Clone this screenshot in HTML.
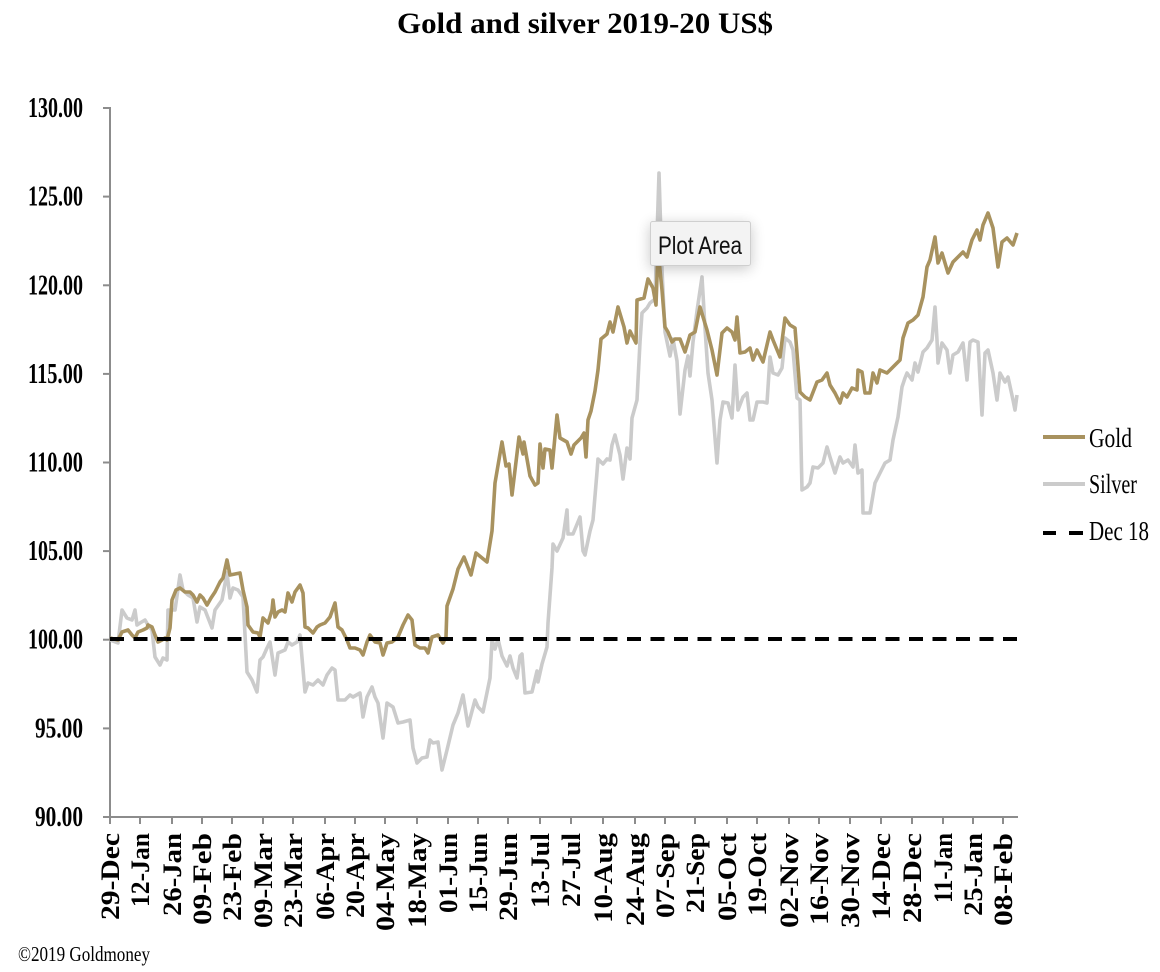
<!DOCTYPE html>
<html>
<head>
<meta charset="utf-8">
<style>
html,body{margin:0;padding:0;background:#fff;}
svg{display:block;}
.ser{font-family:"Liberation Serif","Times New Roman",serif;}
.b{font-weight:bold;}
</style>
</head>
<body>
<svg width="1160" height="972" viewBox="0 0 1160 972" xmlns="http://www.w3.org/2000/svg">
<defs>
<filter id="sh" x="-40%" y="-60%" width="180%" height="220%">
<feGaussianBlur in="SourceAlpha" stdDeviation="7"/>
<feOffset dx="0" dy="3" result="o"/>
<feComponentTransfer><feFuncA type="linear" slope="0.22"/></feComponentTransfer>
<feMerge><feMergeNode/><feMergeNode in="SourceGraphic"/></feMerge>
</filter>
</defs>
<rect width="1160" height="972" fill="#fff"/>

<!-- Title -->
<text class="ser b" x="397" y="33" font-size="30" textLength="376" lengthAdjust="spacingAndGlyphs" fill="#000">Gold and silver 2019-20  US$</text>

<!-- Y axis -->
<g stroke="#8c8c8c" stroke-width="2">
<line x1="110" y1="107" x2="110" y2="818"/>
<line x1="103" y1="108" x2="110" y2="108"/>
<line x1="103" y1="196.6" x2="110" y2="196.6"/>
<line x1="103" y1="285.3" x2="110" y2="285.3"/>
<line x1="103" y1="373.9" x2="110" y2="373.9"/>
<line x1="103" y1="462.5" x2="110" y2="462.5"/>
<line x1="103" y1="551.1" x2="110" y2="551.1"/>
<line x1="103" y1="639.7" x2="110" y2="639.7"/>
<line x1="103" y1="728.4" x2="110" y2="728.4"/>
<line x1="103" y1="817" x2="110" y2="817"/>
<!-- X axis -->
<line x1="109" y1="817" x2="1018" y2="817"/>
</g>
<g stroke="#8c8c8c" stroke-width="2">
<line x1="110" y1="817" x2="110" y2="824"/><line x1="140" y1="817" x2="140" y2="824"/><line x1="172" y1="817" x2="172" y2="824"/><line x1="202" y1="817" x2="202" y2="824"/><line x1="232" y1="817" x2="232" y2="824"/><line x1="263" y1="817" x2="263" y2="824"/><line x1="293" y1="817" x2="293" y2="824"/><line x1="325" y1="817" x2="325" y2="824"/><line x1="355" y1="817" x2="355" y2="824"/><line x1="385" y1="817" x2="385" y2="824"/><line x1="417" y1="817" x2="417" y2="824"/><line x1="448" y1="817" x2="448" y2="824"/><line x1="478" y1="817" x2="478" y2="824"/><line x1="508" y1="817" x2="508" y2="824"/><line x1="540" y1="817" x2="540" y2="824"/><line x1="571" y1="817" x2="571" y2="824"/><line x1="603" y1="817" x2="603" y2="824"/><line x1="635" y1="817" x2="635" y2="824"/><line x1="665" y1="817" x2="665" y2="824"/><line x1="695" y1="817" x2="695" y2="824"/><line x1="727" y1="817" x2="727" y2="824"/><line x1="757" y1="817" x2="757" y2="824"/><line x1="789" y1="817" x2="789" y2="824"/><line x1="819" y1="817" x2="819" y2="824"/><line x1="850" y1="817" x2="850" y2="824"/><line x1="881" y1="817" x2="881" y2="824"/><line x1="912" y1="817" x2="912" y2="824"/><line x1="943" y1="817" x2="943" y2="824"/><line x1="973" y1="817" x2="973" y2="824"/><line x1="1003" y1="817" x2="1003" y2="824"/>
</g>

<!-- Y labels -->
<g class="ser b" font-size="29" text-anchor="end" fill="#000">
<text x="83" y="117" textLength="55" lengthAdjust="spacingAndGlyphs">130.00</text>
<text x="83" y="205.6" textLength="55" lengthAdjust="spacingAndGlyphs">125.00</text>
<text x="83" y="294.3" textLength="55" lengthAdjust="spacingAndGlyphs">120.00</text>
<text x="83" y="382.9" textLength="55" lengthAdjust="spacingAndGlyphs">115.00</text>
<text x="83" y="471.5" textLength="55" lengthAdjust="spacingAndGlyphs">110.00</text>
<text x="83" y="560.1" textLength="55" lengthAdjust="spacingAndGlyphs">105.00</text>
<text x="83" y="648.7" textLength="55" lengthAdjust="spacingAndGlyphs">100.00</text>
<text x="83" y="737.4" textLength="48" lengthAdjust="spacingAndGlyphs">95.00</text>
<text x="83" y="826" textLength="48" lengthAdjust="spacingAndGlyphs">90.00</text>
</g>

<!-- X labels (rotated) -->
<g class="ser b" font-size="26" text-anchor="end" fill="#000">
<text transform="translate(119,833) rotate(-90)" textLength="87" lengthAdjust="spacingAndGlyphs">29-Dec</text>
<text transform="translate(149,833) rotate(-90)" textLength="74" lengthAdjust="spacingAndGlyphs">12-Jan</text>
<text transform="translate(181,833) rotate(-90)" textLength="83" lengthAdjust="spacingAndGlyphs">26-Jan</text>
<text transform="translate(211,833) rotate(-90)" textLength="92" lengthAdjust="spacingAndGlyphs">09-Feb</text>
<text transform="translate(241,833) rotate(-90)" textLength="88" lengthAdjust="spacingAndGlyphs">23-Feb</text>
<text transform="translate(272,833) rotate(-90)" textLength="95" lengthAdjust="spacingAndGlyphs">09-Mar</text>
<text transform="translate(302,833) rotate(-90)" textLength="95" lengthAdjust="spacingAndGlyphs">23-Mar</text>
<text transform="translate(334,833) rotate(-90)" textLength="87" lengthAdjust="spacingAndGlyphs">06-Apr</text>
<text transform="translate(364,833) rotate(-90)" textLength="85" lengthAdjust="spacingAndGlyphs">20-Apr</text>
<text transform="translate(394,833) rotate(-90)" textLength="98" lengthAdjust="spacingAndGlyphs">04-May</text>
<text transform="translate(426,833) rotate(-90)" textLength="95" lengthAdjust="spacingAndGlyphs">18-May</text>
<text transform="translate(457,833) rotate(-90)" textLength="80" lengthAdjust="spacingAndGlyphs">01-Jun</text>
<text transform="translate(487,833) rotate(-90)" textLength="80" lengthAdjust="spacingAndGlyphs">15-Jun</text>
<text transform="translate(517,833) rotate(-90)" textLength="88" lengthAdjust="spacingAndGlyphs">29-Jun</text>
<text transform="translate(549,833) rotate(-90)" textLength="75" lengthAdjust="spacingAndGlyphs">13-Jul</text>
<text transform="translate(580,833) rotate(-90)" textLength="74" lengthAdjust="spacingAndGlyphs">27-Jul</text>
<text transform="translate(612,833) rotate(-90)" textLength="90" lengthAdjust="spacingAndGlyphs">10-Aug</text>
<text transform="translate(644,833) rotate(-90)" textLength="93" lengthAdjust="spacingAndGlyphs">24-Aug</text>
<text transform="translate(674,833) rotate(-90)" textLength="85" lengthAdjust="spacingAndGlyphs">07-Sep</text>
<text transform="translate(704,833) rotate(-90)" textLength="80" lengthAdjust="spacingAndGlyphs">21-Sep</text>
<text transform="translate(736,833) rotate(-90)" textLength="88" lengthAdjust="spacingAndGlyphs">05-Oct</text>
<text transform="translate(766,833) rotate(-90)" textLength="83" lengthAdjust="spacingAndGlyphs">19-Oct</text>
<text transform="translate(798,833) rotate(-90)" textLength="95" lengthAdjust="spacingAndGlyphs">02-Nov</text>
<text transform="translate(828,833) rotate(-90)" textLength="92" lengthAdjust="spacingAndGlyphs">16-Nov</text>
<text transform="translate(859,833) rotate(-90)" textLength="95" lengthAdjust="spacingAndGlyphs">30-Nov</text>
<text transform="translate(890,833) rotate(-90)" textLength="87" lengthAdjust="spacingAndGlyphs">14-Dec</text>
<text transform="translate(921,833) rotate(-90)" textLength="90" lengthAdjust="spacingAndGlyphs">28-Dec</text>
<text transform="translate(952,833) rotate(-90)" textLength="70" lengthAdjust="spacingAndGlyphs">11-Jan</text>
<text transform="translate(982,833) rotate(-90)" textLength="83" lengthAdjust="spacingAndGlyphs">25-Jan</text>
<text transform="translate(1012,833) rotate(-90)" textLength="93" lengthAdjust="spacingAndGlyphs">08-Feb</text>
</g>

<!-- Silver series -->
<polyline fill="none" stroke="#cbcbcb" stroke-width="3.6" stroke-linejoin="round" points="110,640 118,643 122,610 127,618 132,620 135,610 137,625 140,623 145,620 148,625 152,630 155,657 160,665 163,658 167,660 168,610 175,610 180,575 183,590 188,595 193,598 197,622 200,607 205,610 212,628 215,610 222,600 227,573 230,598 233,588 238,590 243,597 247,672 252,680 257,692 260,660 263,657 267,648 270,642 275,675 278,653 285,650 288,642 292,645 297,642 300,635 305,692 308,683 313,685 318,680 323,685 327,675 332,668 335,670 338,700 345,700 350,695 353,697 360,693 363,717 367,697 372,687 375,697 378,703 383,738 387,703 393,707 398,723 403,722 410,720 413,748 417,763 422,758 427,757 430,740 433,743 438,742 442,770 447,750 453,725 458,713 463,695 468,726 475,700 478,707 483,712 490,678 492,640 495,649 498,639 502,656 507,666 510,656 513,668 517,678 520,656 522,654 525,693 532,692 537,671 538,682 542,664 547,647 548,623 552,568 553,544 557,551 563,538 567,510 568,534 573,534 580,517 583,551 585,555 590,531 593,520 597,472 598,459 603,464 607,459 610,460 612,445 615,435 620,455 623,479 627,448 630,459 632,418 637,400 640,342 642,313 647,308 650,303 655,299 659,173 662,270 665,332 670,356 673,339 677,361 680,414 685,370 688,356 690,376 693,342 697,311 702,277 705,328 708,373 712,400 717,463 720,420 723,402 728,403 732,418 735,365 738,410 743,397 747,393 750,420 753,420 757,402 763,402 767,403 770,357 773,373 778,375 782,368 785,338 790,342 793,350 797,398 800,400 802,490 807,487 810,483 813,467 818,468 823,463 827,447 830,457 835,473 840,457 843,463 848,460 853,467 855,445 858,473 862,470 863,513 870,513 875,483 880,473 885,463 890,460 893,440 898,417 902,387 905,378 907,373 912,380 915,363 918,372 923,352 927,348 932,340 935,307 937,340 938,363 942,343 947,350 950,373 953,355 958,352 963,343 967,380 970,342 973,340 978,342 982,415 985,353 988,350 993,373 997,400 1000,373 1005,382 1008,377 1013,400 1015,410 1017,395"/>

<!-- Gold series -->
<polyline fill="none" stroke="#a8925f" stroke-width="3.6" stroke-linejoin="round" points="110,638 118,640 122,632 128,630 132,635 135,638 138,632 143,630 147,628 148,625 152,627 155,635 158,642 162,640 165,638 167,640 170,628 172,600 176,590 180,588 185,592 190,592 193,595 197,602 200,595 203,598 207,605 211,598 215,592 220,582 223,578 227,560 230,575 235,574 240,573 243,590 247,607 248,625 253,632 258,633 260,637 263,618 268,623 272,610 273,600 275,617 278,612 282,610 285,612 288,593 292,602 295,592 300,585 303,593 305,627 308,628 313,633 317,627 320,625 325,623 330,617 335,603 338,627 342,630 347,640 350,648 355,648 360,650 363,655 367,642 370,635 375,642 380,643 383,655 387,643 392,642 398,637 403,625 408,615 412,620 415,645 420,648 425,648 428,653 432,637 438,635 443,643 446,637 447,606 453,589 458,569 464,557 471,575 476,553 487,562 492,531 495,483 502,442 506,466 509,464 512,495 519,437 523,454 524,442 530,476 535,485 538,483 540,444 543,468 545,449 550,450 552,468 557,415 560,438 567,442 571,454 574,445 581,438 584,433 586,457 588,420 591,411 595,391 598,370 601,339 607,334 610,322 613,332 618,307 624,327 627,343 630,331 636,343 637,300 644,298 648,279 653,288 656,305 658,250 662,290 665,327 668,332 672,342 675,339 680,339 685,352 690,335 695,332 700,307 707,330 712,350 717,375 722,333 727,328 732,332 735,340 737,317 740,353 745,352 750,348 753,360 757,350 763,362 770,332 773,340 780,357 785,318 790,325 795,328 797,353 800,392 805,397 810,400 817,382 822,380 827,373 830,385 835,393 840,403 843,393 847,397 852,388 857,390 858,370 862,372 865,393 870,393 873,373 877,383 880,370 887,373 893,367 900,360 903,338 908,323 913,320 918,315 923,297 927,267 930,260 935,237 938,263 942,253 948,273 953,262 958,257 963,252 967,257 972,240 977,230 980,240 983,225 988,213 993,228 998,267 1002,242 1007,238 1013,245 1017,233"/>

<!-- Dec 18 dashed baseline -->
<line x1="110" y1="639" x2="1018" y2="639" stroke="#000" stroke-width="4" stroke-dasharray="14,9.5"/>

<!-- Tooltip -->
<rect x="650.5" y="221.5" width="100" height="44" rx="2" fill="#f3f3f3" stroke="#cfcfcf" stroke-width="1" filter="url(#sh)"/>
<text x="658" y="254" font-family="Liberation Sans, Arial, sans-serif" font-size="25" textLength="84" lengthAdjust="spacingAndGlyphs" fill="#111">Plot Area</text>

<!-- Legend -->
<line x1="1043" y1="437" x2="1085" y2="437" stroke="#a8925f" stroke-width="4"/>
<text class="ser" x="1089" y="447" font-size="27" textLength="43" lengthAdjust="spacingAndGlyphs" fill="#000">Gold</text>
<line x1="1043" y1="484" x2="1085" y2="484" stroke="#cbcbcb" stroke-width="4"/>
<text class="ser" x="1089" y="493" font-size="27" textLength="48" lengthAdjust="spacingAndGlyphs" fill="#000">Silver</text>
<line x1="1043" y1="533" x2="1056" y2="533" stroke="#000" stroke-width="4"/>
<line x1="1069" y1="533" x2="1083" y2="533" stroke="#000" stroke-width="4"/>
<text class="ser" x="1089" y="540" font-size="27" textLength="60" lengthAdjust="spacingAndGlyphs" fill="#000">Dec 18</text>

<!-- Copyright -->
<text class="ser" x="18" y="961" font-size="21" textLength="132" lengthAdjust="spacingAndGlyphs" fill="#000">©2019 Goldmoney</text>
</svg>
</body>
</html>
